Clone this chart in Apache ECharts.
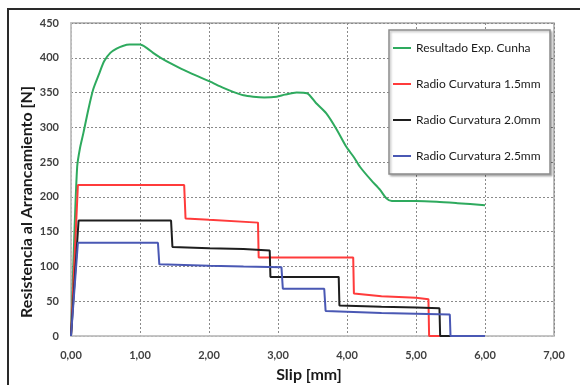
<!DOCTYPE html>
<html>
<head>
<meta charset="utf-8">
<script src="https://cdn.jsdelivr.net/npm/echarts@6/dist/echarts.min.js"></script>
<style>
  html, body { margin: 0; padding: 0; background: #fff; }
  #chart { width: 580px; height: 385px; }
</style>
</head>
<body>
<div id="chart"></div>
<script>
// Pull-out resistance vs slip: experimental curve and three curvature-radius models
const seriesNames = [
  'Resultado Exp. Cunha',
  'Radio Curvatura 1.5mm',
  'Radio Curvatura 2.0mm',
  'Radio Curvatura 2.5mm'
];

// [slip mm, resistance N]
const expCunha = [
  [0, 0], [0.02, 60], [0.05, 150], [0.09, 244], [0.13, 270], [0.18, 292],
  [0.25, 325], [0.32, 354], [0.40, 375], [0.48, 395], [0.57, 407], [0.66, 413],
  [0.75, 417], [0.85, 419], [1.0, 419], [1.1, 414], [1.19, 407], [1.3, 400],
  [1.48, 390], [1.6, 384], [1.8, 375], [2.01, 366], [2.2, 357], [2.35, 351],
  [2.5, 346], [2.64, 344], [2.8, 343], [2.98, 344], [3.1, 347], [3.27, 350],
  [3.42, 349], [3.55, 335], [3.70, 320], [3.85, 297], [3.99, 272], [4.1, 257],
  [4.19, 243], [4.35, 224], [4.48, 210], [4.57, 198], [4.65, 194], [5.0, 194],
  [5.3, 193], [5.6, 191], [6.0, 188]
];

const radio15 = [
  [0, 0], [0.1, 217], [1.64, 217], [1.66, 169], [2.0, 167], [2.71, 163],
  [2.72, 113], [4.09, 113], [4.1, 61], [4.5, 57], [5.0, 55], [5.18, 53],
  [5.19, 0], [6.0, 0]
];

const radio20 = [
  [0, 0], [0.11, 166], [1.45, 166], [1.47, 128], [2.0, 126], [2.5, 125],
  [2.88, 123], [2.89, 85], [3.88, 85], [3.89, 44], [4.5, 42], [5.0, 41],
  [5.34, 40], [5.35, 0], [6.0, 0]
];

const radio25 = [
  [0, 0], [0.1, 134], [1.26, 134], [1.28, 103], [2.0, 101], [2.5, 100],
  [3.05, 99], [3.07, 68], [3.67, 68], [3.69, 36], [4.5, 33], [5.0, 32],
  [5.49, 31], [5.5, 0], [6.0, 0]
];

const seriesData = [expCunha, radio15, radio20, radio25];
const seriesColors = ['#2eaa5e', '#ff3b3b', '#1e1e1e', '#4a58b4'];
const seriesSmooth = [0.25, false, false, false];

const fontFamily = 'Lato, "Open Sans", sans-serif';

const chart = echarts.init(document.getElementById('chart'), null, { renderer: 'canvas' });

chart.setOption({
  animation: false,
  backgroundColor: '#fff',
  textStyle: { fontFamily: fontFamily },
  grid: {
    left: 71, right: 26, top: 23, bottom: 49,
    show: true, borderColor: '#a8a8a8', borderWidth: 1.5
  },
  xAxis: {
    type: 'value', min: 0, max: 7, interval: 1,
    axisLine: { show: true, lineStyle: { color: '#c8c8c8', width: 1.5 } },
    axisTick: { show: false },
    axisLabel: {
      margin: 14, color: '#404040', fontSize: 11, fontWeight: 'bold', fontFamily: fontFamily,
      formatter: v => v.toFixed(2).replace('.', ',')
    },
    splitLine: { show: true, lineStyle: { color: '#8a8a8a', type: [2, 2], width: 1 } }
  },
  yAxis: {
    type: 'value', min: 0, max: 450, interval: 50,
    axisLine: { show: true, lineStyle: { color: '#c8c8c8', width: 1.5 } },
    axisTick: { show: false },
    axisLabel: { margin: 12, color: '#404040', fontSize: 11, fontWeight: 'bold', fontFamily: fontFamily },
    splitLine: { show: true, lineStyle: { color: '#8a8a8a', type: [2, 2], width: 1 } }
  },
  legend: {
    orient: 'vertical',
    left: 393, top: 41,
    z: 10,
    padding: 0,
    itemGap: 22,
    itemWidth: 18, itemHeight: 2,
    icon: 'rect',
    textStyle: { fontSize: 12, color: '#1a1a1a', fontFamily: fontFamily, lineHeight: 14 },
    data: seriesNames
  },
  graphic: [
    // outer frame
    { type: 'rect', silent: true, z: 0,
      shape: { x: 8, y: 9, width: 600, height: 420 },
      style: { fill: 'none', stroke: '#2a2a2a', lineWidth: 2 } },
    // legend box
    { type: 'rect', silent: true, z: 5,
      shape: { x: 389, y: 30, width: 161, height: 144 },
      style: { fill: '#fff', stroke: '#8c8c8c', lineWidth: 1.5,
               shadowColor: 'rgba(0,0,0,0.25)', shadowBlur: 2, shadowOffsetX: 1.5, shadowOffsetY: 1.5 } },
    // axis titles
    { type: 'text', silent: true, z: 6,
      x: 309, y: 375,
      style: { text: 'Slip [mm]', font: 'bold 16px ' + fontFamily, fill: '#1a1a1a',
               align: 'center', verticalAlign: 'middle' } },
    { type: 'text', silent: true, z: 6,
      x: 27, y: 202, rotation: Math.PI / 2,
      style: { text: 'Resistencia al Arrancamiento [N]', font: 'bold 16px ' + fontFamily, fill: '#1a1a1a',
               align: 'center', verticalAlign: 'middle' } }
  ],
  series: seriesNames.map((name, i) => ({
    name: name,
    type: 'line',
    data: seriesData[i],
    showSymbol: false,
    symbol: 'none',
    smooth: seriesSmooth[i],
    z: 2 + i,
    color: seriesColors[i],
    lineStyle: { color: seriesColors[i], width: 2 }
  }))
});
</script>
</body>
</html>
